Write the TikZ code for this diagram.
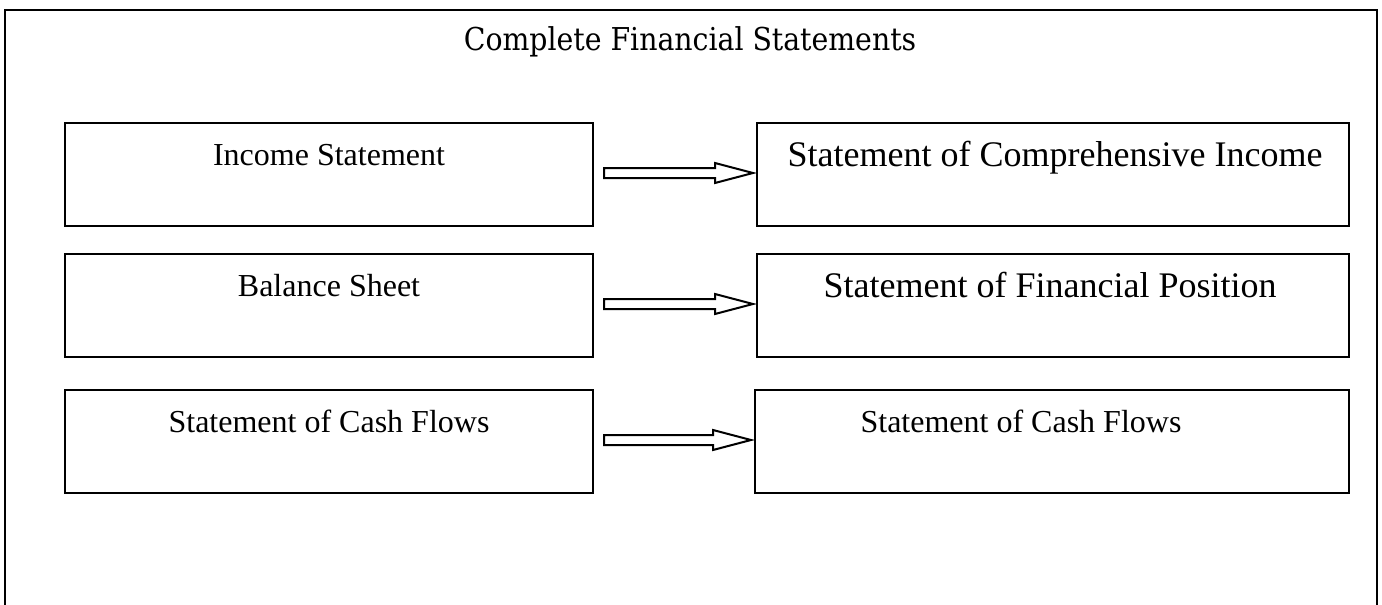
\documentclass[tikz,border=0pt]{standalone}
\usepackage{fontspec}
\setmainfont{Liberation Serif}
\newfontfamily\titlefont{DejaVu Serif Condensed}
\usetikzlibrary{calc}
\tikzset{
  frame/.style={line width=2.5pt},
  box/.style={draw, line width=2pt, minimum width=528pt, minimum height=103pt, anchor=north west},
  ltext/.style={font=\fontsize{32}{36}\selectfont, anchor=base},
  rtext/.style={font=\fontsize{36}{40}\selectfont, anchor=base},
  arrowline/.style={draw, line width=2pt, fill=white, line join=miter},
  titletext/.style={font=\titlefont\fontsize{31.5}{36}\selectfont}
}
\newcommand\blockarrow[2]{%
  \path ($(#1.east)+(10,-1.5)$) coordinate (s) ($(#2.west)+(-3,-1.5)$) coordinate (t);
  \draw[arrowline] ($(s)+(0,-5)$) -- ($(t)+(-38,-5)$) -- ($(t)+(-38,-10)$) -- (t)
    -- ($(t)+(-38,10)$) -- ($(t)+(-38,5)$) -- ($(s)+(0,5)$) -- cycle;}
\begin{document}
\begin{tikzpicture}[x=1pt,y=-1pt]
\useasboundingbox (0,0) rectangle (1382,605);
\draw[frame] (5,610) -- (5,10) -- (1377,10) -- (1377,610);
\node[titletext] (title) at (690,42) {Complete Financial Statements};
\node[box] (l1) at (64,122) {};
\node[box] (l2) at (64,253) {};
\node[box] (l3) at (64,389) {};
\node[box, minimum width=592pt] (r1) at (756,122) {};
\node[box, minimum width=592pt] (r2) at (756,253) {};
\node[box, minimum width=594pt] (r3) at (754,389) {};
\node[ltext] (t1) at (329,165) {Income Statement};
\node[ltext] (t2) at (329,296) {Balance Sheet};
\node[ltext] (t3) at (329,432) {Statement of Cash Flows};
\node[rtext] (u1) at (1055,166) {Statement of Comprehensive Income};
\node[rtext] (u2) at (1050,297) {Statement of Financial Position};
\node[ltext] (u3) at (1021,432) {Statement of Cash Flows};
\blockarrow{l1}{r1}
\blockarrow{l2}{r2}
\blockarrow{l3}{r3}
\end{tikzpicture}
\end{document}
